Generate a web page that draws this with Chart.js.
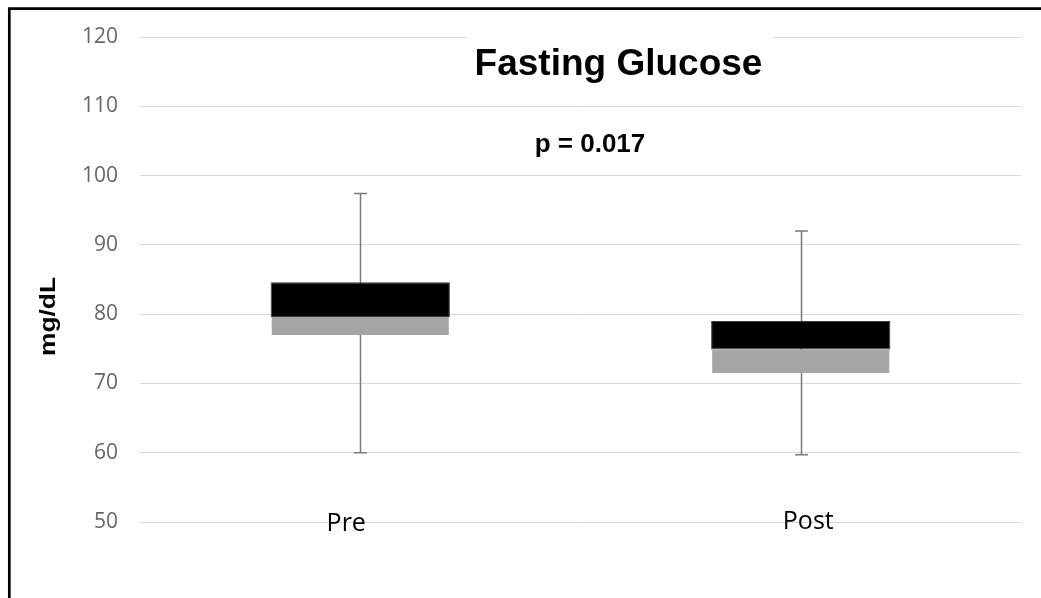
<!DOCTYPE html>
<html>
<head>
<meta charset="utf-8">
<title>Fasting Glucose</title>
<script src="https://cdn.jsdelivr.net/npm/chart.js@4.4.1/dist/chart.umd.min.js"></script>
<style>
  html, body { margin: 0; padding: 0; background: #ffffff; }
  canvas { display: block; }
</style>
</head>
<body>
<canvas id="chart" width="1041" height="598"></canvas>
<script>
// Box-plot summary per time point (mg/dL)
const categories   = ['Pre', 'Post'];
const whiskerLow   = [60.0, 59.7];
const quartile1    = [77.0, 71.5];
const median       = [79.6, 74.9];
const quartile3    = [84.6, 79.0];
const whiskerHigh  = [97.4, 92.0];

// Axis ticks and texts
const yTicks     = [50, 60, 70, 80, 90, 100, 110, 120];
const chartTitle = 'Fasting Glucose';
const pValueText = 'p = 0.017';
const yAxisTitle = 'mg/dL';

const lowerBox = categories.map((_, i) => [quartile1[i], median[i]]);
const upperBox = categories.map((_, i) => [median[i], quartile3[i]]);

// Whiskers (behind the boxes), title block and hand-placed category labels
const boxPlotDecor = {
  id: 'boxPlotDecor',
  beforeDatasetsDraw(chart) {
    const { ctx, scales: { x, y } } = chart;
    ctx.save();
    // white panel behind the title, hiding the top gridline there
    ctx.fillStyle = '#ffffff';
    ctx.fillRect(467, 28, 306, 62);

    // whiskers with end caps
    ctx.strokeStyle = '#7a7a7a';
    ctx.lineWidth = 1.5;
    categories.forEach((_, i) => {
      const cx = Math.round(x.getPixelForValue(i)) + 0.5;
      const yHi = y.getPixelForValue(whiskerHigh[i]);
      const yLo = y.getPixelForValue(whiskerLow[i]);
      ctx.beginPath();
      ctx.moveTo(cx, yHi);
      ctx.lineTo(cx, yLo);
      ctx.moveTo(cx - 6.5, yHi);
      ctx.lineTo(cx + 6.5, yHi);
      ctx.moveTo(cx - 6.5, yLo);
      ctx.lineTo(cx + 6.5, yLo);
      ctx.stroke();
    });
    ctx.restore();
  },
  afterDraw(chart) {
    const { ctx, scales: { x } } = chart;
    ctx.save();
    ctx.fillStyle = '#000000';
    ctx.textBaseline = 'alphabetic';
    ctx.textAlign = 'center';

    // chart title and p-value
    ctx.font = 'bold 37px "Liberation Sans", Arial, sans-serif';
    ctx.fillText(chartTitle, 618.5, 75);
    ctx.font = 'bold 26px "Liberation Sans", Arial, sans-serif';
    ctx.fillText(pValueText, 590, 151.5);

    // category labels
    ctx.font = '25px "Open Sans", sans-serif';
    ctx.fillText(categories[0], x.getPixelForValue(0) - 14, 531);
    ctx.fillText(categories[1], x.getPixelForValue(1) + 7.5, 528.5);

    // y-axis title
    ctx.translate(55, 316.5);
    ctx.rotate(-Math.PI / 2);
    ctx.scale(1.2, 1);
    ctx.font = 'bold 22px "Liberation Sans", Arial, sans-serif';
    ctx.textBaseline = 'alphabetic';
    ctx.fillText(yAxisTitle, 0, 0);
    ctx.restore();

    // outer frame (left and top edges)
    ctx.save();
    ctx.strokeStyle = '#000000';
    ctx.lineWidth = 2.7;
    ctx.beginPath();
    ctx.moveTo(9.3, 598);
    ctx.lineTo(9.3, 8.7);
    ctx.lineTo(1041, 8.7);
    ctx.stroke();
    ctx.restore();
  }
};

new Chart(document.getElementById('chart'), {
  type: 'bar',
  data: {
    labels: categories,
    datasets: [
      {
        label: 'Q1 to median',
        data: lowerBox,
        backgroundColor: '#a5a5a5',
        borderWidth: 0,
        grouped: false,
        categoryPercentage: 1,
        barPercentage: 0.402
      },
      {
        label: 'Median to Q3',
        data: upperBox,
        backgroundColor: '#000000',
        borderColor: '#3c3c3c',
        borderWidth: 1,
        borderSkipped: false,
        grouped: false,
        categoryPercentage: 1,
        barPercentage: 0.407
      }
    ]
  },
  options: {
    responsive: false,
    animation: false,
    layout: { padding: { left: 0, top: 37, right: 20, bottom: 76 } },
    plugins: {
      legend: { display: false },
      tooltip: { enabled: false },
      title: { display: false }
    },
    scales: {
      x: {
        type: 'category',
        display: false,
        offset: true
      },
      y: {
        min: 50,
        max: 120,
        afterBuildTicks(scale) {
          scale.ticks = yTicks.map(v => ({ value: v }));
        },
        afterFit(scale) {
          scale.width = 140;
        },
        border: { display: false },
        grid: {
          color: '#d9d9d9',
          lineWidth: 1,
          drawTicks: false
        },
        ticks: {
          padding: 22,
          color: '#666666',
          font: { family: '"Open Sans", sans-serif', size: 21 }
        }
      }
    }
  },
  plugins: [boxPlotDecor]
});
</script>
</body>
</html>
